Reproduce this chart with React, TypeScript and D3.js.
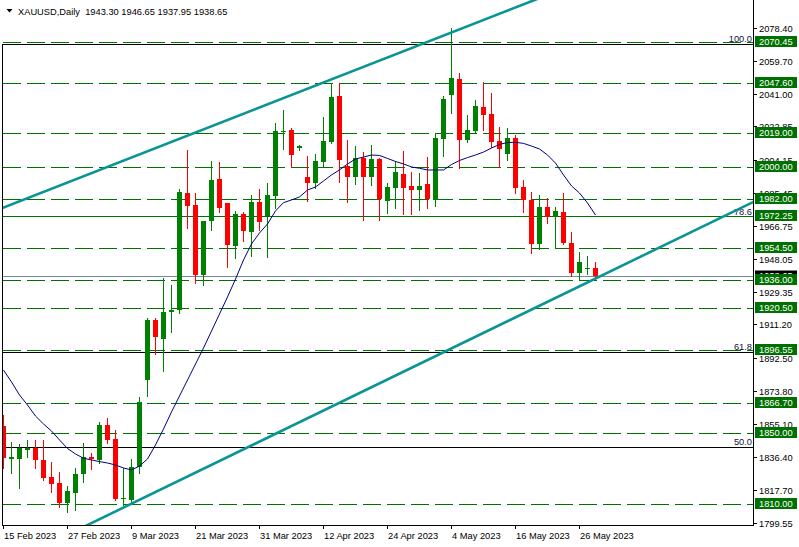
import React from "react";
import * as d3 from "d3";

const W = 799;
const H = 547;

const titleText = "XAUUSD,Daily  1943.30 1946.65 1937.95 1938.65";

// daily candles, 15 Feb 2023 .. 30 May 2023 (weekdays)
const opens = [
  1854.0, 1835.5, 1835.5, 1840.6, 1841.7, 1834.8, 1825.2, 1821.8, 1810.7, 1816.4,
  1826.7, 1836.5, 1834.8, 1854.5, 1846.6, 1812.8, 1812.25, 1830.7, 1879.9, 1913.7,
  1903.0, 1918.1, 1919.4, 1985.5, 1978.6, 1939.1, 1969.7, 1993.2, 1979.9, 1955.45,
  1973.5, 1963.5, 1980.4, 1972.4, 1983.8, 2019.9, 2020.8, 2010.5, 1994.3, 1990.8,
  2003.0, 2014.2, 2040.0, 2000.7, 1994.5, 2005.2, 1994.5, 2004.5, 1981.0, 1988.3,
  1996.0, 1989.3, 1987.0, 1990.6, 1981.4, 2015.8, 2040.6, 2049.6, 2015.2, 2020.3,
  2033.6, 2029.9, 2014.6, 2007.5, 2016.5, 1988.5, 1981.4, 1956.6, 1977.4, 1971.6,
  1974.6, 1957.0, 1940.4, 1942.9, 1943.3,
];
const highs = [
  1860.2, 1844.95, 1843.8, 1846.1, 1846.1, 1846.1, 1833.8, 1828.2, 1820.1, 1830.1,
  1844.2, 1838.6, 1856.4, 1858.65, 1851.7, 1830.1, 1835.2, 1870.5, 1915.0, 1914.7,
  1937.6, 1933.5, 1987.6, 2009.6, 1985.5, 1969.7, 2003.4, 2002.6, 1979.9, 1975.2,
  1974.8, 1984.2, 1987.4, 1990.8, 2024.6, 2032.1, 2021.8, 2012.4, 2006.35, 2007.1,
  2028.3, 2047.5, 2047.2, 2015.2, 2011.8, 2008.3, 2012.4, 2005.0, 1990.8, 2003.5,
  2009.2, 1997.3, 1996.4, 2005.8, 2019.0, 2040.2, 2078.2, 2053.1, 2029.3, 2037.75,
  2048.1, 2041.5, 2022.7, 2022.1, 2018.0, 1992.65, 1986.1, 1984.2, 1982.3, 1977.4,
  1985.5, 1963.5, 1952.2, 1949.8, 1946.65,
];
const lows = [
  1830.3, 1827.5, 1819.0, 1836.7, 1830.1, 1823.5, 1816.9, 1808.5, 1805.5, 1806.6,
  1822.6, 1829.6, 1832.9, 1844.6, 1812.25, 1809.4, 1811.1, 1827.3, 1870.9, 1894.6,
  1885.15, 1907.1, 1917.8, 1965.4, 1934.8, 1933.5, 1964.5, 1974.8, 1943.8, 1948.85,
  1958.4, 1949.8, 1964.5, 1949.4, 1976.7, 2010.0, 2000.15, 2009.6, 1980.8, 1988.1,
  2000.7, 2013.3, 1991.7, 1980.4, 1990.4, 1970.1, 1989.8, 1970.1, 1973.9, 1976.7,
  1973.5, 1973.5, 1975.7, 1976.7, 1978.2, 2006.35, 2030.25, 1999.25, 2013.9, 2019.5,
  2020.8, 2011.4, 2000.15, 2003.9, 1985.15, 1974.8, 1951.7, 1953.6, 1968.6, 1954.15,
  1956.8, 1938.5, 1936.3, 1939.7, 1937.95,
];
const closes = [
  1835.9, 1836.3, 1841.7, 1841.7, 1834.6, 1824.8, 1821.4, 1810.7, 1817.3, 1826.9,
  1836.5, 1835.5, 1854.5, 1846.1, 1812.8, 1813.55, 1831.0, 1867.7, 1913.7, 1904.0,
  1918.2, 1919.2, 1985.9, 1978.2, 1939.1, 1969.7, 1992.65, 1977.0, 1956.0, 1973.5,
  1964.1, 1980.4, 1969.1, 1984.2, 2020.3, 2020.45, 2006.75, 2011.8, 1990.8, 2003.4,
  2014.6, 2039.4, 2003.9, 1994.5, 2005.2, 1994.5, 2004.5, 1981.9, 1988.7, 1997.2,
  1988.3, 1987.0, 1989.3, 1981.9, 2016.5, 2038.3, 2050.3, 2015.2, 2020.8, 2034.5,
  2029.3, 2014.1, 2010.3, 2016.5, 1988.3, 1981.4, 1956.6, 1977.4, 1971.6, 1975.2,
  1957.0, 1940.4, 1946.3, 1943.2, 1938.65,
];

// moving average
const maValues = [
  1885.5, 1878.8, 1871.45, 1865.8, 1859.6, 1855.1, 1851.15, 1846.1, 1841.3, 1838.2,
  1835.8, 1834.8, 1833.9, 1833.1, 1832.0, 1830.3, 1829.2, 1831.4, 1835.4, 1843.3,
  1852.3, 1861.9, 1870.9, 1879.9, 1888.9, 1897.9, 1907.5, 1917.1, 1926.7, 1936.8,
  1947.55, 1956.6, 1962.8, 1967.85, 1975.2, 1979.9, 1981.4, 1983.1, 1987.0, 1988.7,
  1992.1, 1995.5, 1998.3, 2001.7, 2004.5, 2005.6, 2006.75, 2006.5, 2004.8, 2003.1,
  2001.7, 2000.0, 1999.25, 1998.3, 1998.3, 1998.3, 2001.4, 2003.65, 2005.3, 2006.75,
  2008.4, 2010.7, 2012.7, 2013.8, 2013.9, 2013.3, 2011.8, 2010.1, 2006.75, 2002.2,
  1995.5, 1989.3, 1985.3, 1979.7, 1972.9,
];

const dateLabels = [
  "15 Feb 2023", "27 Feb 2023", "9 Mar 2023", "21 Mar 2023", "31 Mar 2023",
  "12 Apr 2023", "24 Apr 2023", "4 May 2023", "16 May 2023", "26 May 2023",
];
const dateIndex = [0, 8, 16, 24, 32, 40, 48, 56, 64, 72];

const axisTicks = [
  2078.4, 2059.7, 2041.0, 2022.85, 2004.15, 1985.45, 1966.75, 1948.05,
  1929.35, 1911.2, 1892.5, 1873.8, 1855.1, 1836.4, 1817.7, 1799.55,
];

const levelPrices = [
  2070.45, 2047.6, 2019.0, 2000.0, 1982.0, 1972.25, 1954.5, 1936.0,
  1920.5, 1896.55, 1866.7, 1850.0, 1810.0,
];
const solidLevels = [1972.25];

const fibHigh = 2069.3;
const fibLow = 1614.9;
const fibRatios = [1.0, 0.786, 0.618, 0.5];
const fibNames = ["100.0", "78.6", "61.8", "50.0"];

const bidPrice = 1938.65;

// channel anchors: [bar index, price]
const upperChannel = [[0, 1977.1], [60, 2082.85]];
const lowerChannel = [[14, 1805.8], [74, 1937.1]];

const PL = 2;
const PR = 753;
const PB = 525;
const font = "'Liberation Sans', Arial, sans-serif";
const GREEN = "#007000";

export default function App() {
  const x = d3.scaleLinear().domain([0, 74]).range([3.5, 595.5]);
  const y = d3.scaleLinear().domain([1810, 2070.45]).range([504, 42]);
  const yy = (p: number) => Math.round(y(p)) + 0.5;

  const ma = d3
    .line<number>()
    .x((_, i) => x(i))
    .y((d) => y(d))(maValues);

  const chan = (a: number[][]) => {
    const [[i0, p0], [i1, p1]] = a;
    const s = (p1 - p0) / (i1 - i0);
    const ia = -5;
    const ib = 110;
    return { x1: x(ia), y1: y(p0 + s * (ia - i0)), x2: x(ib), y2: y(p0 + s * (ib - i0)) };
  };

  return (
    <svg
      width={W}
      height={H}
      style={{ position: "absolute", left: 0, top: 0, background: "#fff" }}
      fontFamily={font}
    >
      <defs>
        <clipPath id="plot">
          <rect x={PL} y={0} width={PR - PL} height={PB} />
        </clipPath>
      </defs>
      <rect x={0} y={0} width={W} height={H} fill="#fff" />

      <g clipPath="url(#plot)">
        {/* horizontal levels */}
        {levelPrices.map((p) => (
          <line
            key={"lv" + p}
            x1={3}
            x2={PR}
            y1={yy(p)}
            y2={yy(p)}
            stroke={GREEN}
            strokeWidth={1}
            strokeDasharray={solidLevels.includes(p) ? undefined : "18,6"}
            shapeRendering="crispEdges"
          />
        ))}
        {/* fibonacci levels */}
        {fibRatios.map((r, k) => {
          const p = fibLow + r * (fibHigh - fibLow);
          return (
            <g key={"fib" + k}>
              {r !== 0.786 && (
                <line x1={PL} x2={PR} y1={yy(p)} y2={yy(p)} stroke="#000" shapeRendering="crispEdges" />
              )}
              <text x={752} y={yy(p) - 3} textAnchor="end" fontSize={9.3} fill="#101040">
                {fibNames[k]}
              </text>
            </g>
          );
        })}
        {/* bid line */}
        <line x1={PL} x2={PR} y1={yy(bidPrice)} y2={yy(bidPrice)} stroke="#778899" shapeRendering="crispEdges" />

        {/* candles */}
        {opens.map((o, i) => {
          const c = closes[i];
          const up = c >= o;
          const col = up ? "#008000" : "#ff0000";
          const cx = Math.round(x(i) - 0.5) + 0.5;
          const top = Math.round(y(Math.max(o, c)));
          const bot = Math.round(y(Math.min(o, c)));
          return (
            <g key={"c" + i}>
              <line
                x1={cx}
                x2={cx}
                y1={Math.round(y(highs[i]))}
                y2={Math.round(y(lows[i])) + 1}
                stroke={col}
                shapeRendering="crispEdges"
              />
              <rect
                x={cx - 2.5}
                y={top}
                width={5}
                height={Math.max(1, bot - top)}
                fill={col}
                shapeRendering="crispEdges"
              />
            </g>
          );
        })}

        {/* moving average */}
        <path d={ma || ""} fill="none" stroke="#000080" strokeWidth={1} />

        {/* channel */}
        {[upperChannel, lowerChannel].map((a, k) => {
          const l = chan(a);
          return <line key={"ch" + k} {...l} stroke="#0a9494" strokeWidth={2.6} />;
        })}
      </g>

      {/* frame */}
      <line x1={PL + 0.5} x2={PL + 0.5} y1={44} y2={PB + 0.5} stroke="#000" shapeRendering="crispEdges" />
      <line x1={PR + 0.5} x2={PR + 0.5} y1={0} y2={PB + 0.5} stroke="#000" shapeRendering="crispEdges" />
      <line x1={PL} x2={PR + 1} y1={PB + 0.5} y2={PB + 0.5} stroke="#000" shapeRendering="crispEdges" />

      {/* title */}
      <path d="M6.5,9 L12.5,9 L9.5,12.5 Z" fill="#000" />
      <text x={18} y={14.5} fontSize={9.3} fill="#000" xmlSpace="preserve">
        {titleText}
      </text>

      {/* price axis */}
      {axisTicks.map((p) => (
        <g key={"t" + p}>
          <line x1={PR} x2={PR + 4} y1={yy(p)} y2={yy(p)} stroke="#000" shapeRendering="crispEdges" />
          <text x={759} y={yy(p)} dy="0.35em" fontSize={9.3} fill="#000">
            {p.toFixed(2)}
          </text>
        </g>
      ))}

      {/* current price box */}
      <rect x={755} y={yy(bidPrice) - 6} width={42} height={11} fill="#000" />
      <text x={759} y={yy(bidPrice) - 0.5} dy="0.35em" fontSize={9.3} fill="#fff">
        {bidPrice.toFixed(2)}
      </text>

      {/* level price boxes */}
      {levelPrices.map((p) => (
        <g key={"b" + p}>
          <rect x={755} y={yy(p) - 6.5} width={42} height={11} fill={GREEN} />
          <text x={759} y={yy(p) - 1} dy="0.35em" fontSize={9.3} fill="#fff">
            {p.toFixed(2)}
          </text>
        </g>
      ))}

      {/* time axis */}
      {dateIndex.map((i, k) => {
        const tx = Math.round(x(i) - 0.5) + 0.5;
        return (
          <g key={"d" + i}>
            <line x1={tx} x2={tx} y1={PB} y2={PB + 4} stroke="#000" shapeRendering="crispEdges" />
            <text x={tx + 0.5} y={538.5} fontSize={9.3} fill="#000">
              {dateLabels[k]}
            </text>
          </g>
        );
      })}
    </svg>
  );
}
